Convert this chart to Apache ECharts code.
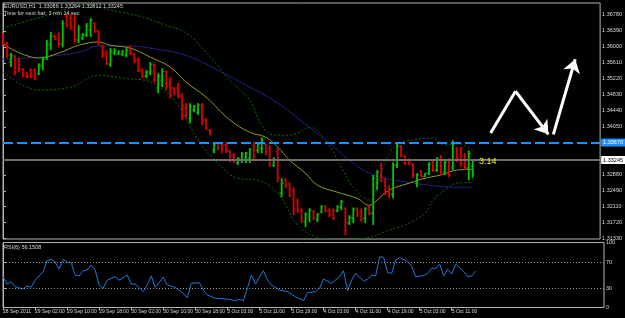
<!DOCTYPE html>
<html>
<head>
<meta charset="utf-8">
<script src="https://cdn.jsdelivr.net/npm/echarts@6/dist/echarts.min.js"></script>
<style>
    html, body {margin: 0; padding: 0; background: #000;}
    #chart {width: 625px; height: 318px;}
</style>
</head>
<body>
<div id="chart"></div>
<script>
// EURUSD H1, one bar per hour starting 28 Sep 2011 18:00
const opens = [1.3629, 1.3609, 1.3563, 1.3575, 1.3568, 1.3546, 1.3536, 1.3543, 1.3543, 1.3534,
    1.3553, 1.3573, 1.3604, 1.3626, 1.3629, 1.3607, 1.3675, 1.3670, 1.3665, 1.3617,
    1.3621, 1.3629, 1.3641, 1.3658, 1.3638, 1.3602, 1.3585, 1.3558, 1.3585, 1.3582,
    1.3582, 1.3580, 1.3597, 1.3582, 1.3568, 1.3543, 1.3529, 1.3539, 1.3556, 1.3500,
    1.3519, 1.3539, 1.3509, 1.3500, 1.3500, 1.3480, 1.3451, 1.3426, 1.3446, 1.3441,
    1.3456, 1.3422, 1.3397, 1.3348, 1.3366, 1.3363, 1.3361, 1.3346, 1.3336, 1.3317,
    1.3324, 1.3329, 1.3329, 1.3361, 1.3348, 1.3353, 1.3363, 1.3353, 1.3312, 1.3344,
    1.3244, 1.3275, 1.3266, 1.3251, 1.3224, 1.3202, 1.3173, 1.3183, 1.3200, 1.3180,
    1.3197, 1.3212, 1.3202, 1.3202, 1.3200, 1.3209, 1.3207, 1.3171, 1.3183, 1.3205,
    1.3197, 1.3183, 1.3209, 1.3195, 1.3270, 1.3310, 1.3275, 1.3256, 1.3241, 1.3312,
    1.3356, 1.3334, 1.3324, 1.3312, 1.3268, 1.3297, 1.3285, 1.3292, 1.3319, 1.3300,
    1.3331, 1.3295, 1.3324, 1.3305, 1.3353, 1.3348, 1.3336, 1.3305, 1.33086];
const highs = [1.3634, 1.3612, 1.3585, 1.3580, 1.3573, 1.3548, 1.3539, 1.3548, 1.3548, 1.3560,
    1.3575, 1.3617, 1.3636, 1.3629, 1.3636, 1.3665, 1.3682, 1.3680, 1.3677, 1.3653,
    1.3634, 1.3658, 1.3670, 1.3660, 1.3641, 1.3604, 1.3592, 1.3597, 1.3597, 1.3592,
    1.3592, 1.3597, 1.3604, 1.3585, 1.3575, 1.3548, 1.3543, 1.3563, 1.3560, 1.3536,
    1.3548, 1.3543, 1.3526, 1.3502, 1.3512, 1.3487, 1.3463, 1.3463, 1.3458, 1.3463,
    1.3463, 1.3426, 1.3400, 1.3366, 1.3368, 1.3368, 1.3368, 1.3348, 1.3341, 1.3331,
    1.3344, 1.3344, 1.3353, 1.3368, 1.3368, 1.3380, 1.3366, 1.3361, 1.3331, 1.3353,
    1.3280, 1.3280, 1.3270, 1.3258, 1.3231, 1.3207, 1.3197, 1.3207, 1.3202, 1.3195,
    1.3214, 1.3214, 1.3207, 1.3207, 1.3214, 1.3227, 1.3209, 1.3190, 1.3209, 1.3209,
    1.3207, 1.3209, 1.3214, 1.3288, 1.3300, 1.3317, 1.3280, 1.3263, 1.3319, 1.3368,
    1.3361, 1.3336, 1.3329, 1.3317, 1.3292, 1.3300, 1.3292, 1.3319, 1.3324, 1.3331,
    1.3336, 1.3324, 1.3329, 1.3373, 1.3356, 1.3356, 1.3341, 1.3348, 1.33264];
const lows = [1.3604, 1.3573, 1.3551, 1.3531, 1.3539, 1.3526, 1.3524, 1.3524, 1.3519, 1.3531,
    1.3543, 1.3568, 1.3592, 1.3617, 1.3599, 1.3599, 1.3648, 1.3641, 1.3609, 1.3609,
    1.3617, 1.3624, 1.3624, 1.3634, 1.3604, 1.3573, 1.3556, 1.3551, 1.3580, 1.3580,
    1.3578, 1.3575, 1.3580, 1.3560, 1.3539, 1.3524, 1.3524, 1.3531, 1.3512, 1.3487,
    1.3502, 1.3495, 1.3475, 1.3482, 1.3475, 1.3422, 1.3426, 1.3414, 1.3441, 1.3434,
    1.3409, 1.3397, 1.3385, 1.3341, 1.3348, 1.3341, 1.3341, 1.3319, 1.3317, 1.3312,
    1.3317, 1.3317, 1.3317, 1.3324, 1.3341, 1.3341, 1.3336, 1.3307, 1.3307, 1.3270,
    1.3234, 1.3256, 1.3234, 1.3190, 1.3195, 1.3171, 1.3161, 1.3173, 1.3178, 1.3173,
    1.3195, 1.3197, 1.3185, 1.3178, 1.3197, 1.3202, 1.3141, 1.3166, 1.3171, 1.3185,
    1.3173, 1.3171, 1.3190, 1.3166, 1.3251, 1.3270, 1.3239, 1.3231, 1.3231, 1.3305,
    1.3331, 1.3312, 1.3312, 1.3280, 1.3258, 1.3283, 1.3283, 1.3288, 1.3295, 1.3295,
    1.3288, 1.3288, 1.3283, 1.3300, 1.3319, 1.3307, 1.3300, 1.3275, 1.32812];
const closes = [1.3609, 1.3580, 1.3578, 1.3539, 1.3546, 1.3531, 1.3526, 1.3529, 1.3524, 1.3556,
    1.3570, 1.3607, 1.3626, 1.3619, 1.3607, 1.3656, 1.3653, 1.3648, 1.3617, 1.3646,
    1.3629, 1.3651, 1.3665, 1.3638, 1.3609, 1.3580, 1.3560, 1.3590, 1.3592, 1.3587,
    1.3590, 1.3592, 1.3585, 1.3565, 1.3543, 1.3529, 1.3539, 1.3558, 1.3519, 1.3529,
    1.3541, 1.3504, 1.3482, 1.3487, 1.3480, 1.3431, 1.3434, 1.3456, 1.3456, 1.3458,
    1.3422, 1.3402, 1.3387, 1.3361, 1.3353, 1.3348, 1.3346, 1.3324, 1.3319, 1.3329,
    1.3339, 1.3341, 1.3351, 1.3331, 1.3363, 1.3373, 1.3344, 1.3314, 1.3327, 1.3280,
    1.3268, 1.3261, 1.3239, 1.3202, 1.3200, 1.3178, 1.3192, 1.3202, 1.3183, 1.3192,
    1.3212, 1.3200, 1.3190, 1.3183, 1.3212, 1.3222, 1.3173, 1.3185, 1.3205, 1.3190,
    1.3180, 1.3205, 1.3195, 1.3280, 1.3295, 1.3280, 1.3246, 1.3239, 1.3312, 1.3358,
    1.3336, 1.3317, 1.3314, 1.3288, 1.3288, 1.3285, 1.3292, 1.3314, 1.3300, 1.3327,
    1.3295, 1.3319, 1.3288, 1.3361, 1.3329, 1.3317, 1.3307, 1.3341, 1.33245];

// indicator lines as [bar, value]
const maFast = [[0, 1.3607], [9, 1.3573], [14, 1.3585], [19, 1.3604], [24, 1.3612], [27, 1.3604],
    [32, 1.3597], [37, 1.3575], [42, 1.3551], [46, 1.3514], [51, 1.3478], [57, 1.3422],
    [62, 1.3392], [66, 1.3380], [69, 1.3356], [72, 1.3324], [76, 1.3292], [79, 1.3263],
    [84, 1.3246], [89, 1.3231], [92, 1.3214], [94, 1.3227], [97, 1.3251], [102, 1.3268],
    [106, 1.3280], [110, 1.3288], [114, 1.3300], [118, 1.3302]];
const maSlow = [[0, 1.3570], [9, 1.3575], [19, 1.3587], [24, 1.3602], [32, 1.3602], [40, 1.3592],
    [44, 1.3585], [49, 1.3568], [54, 1.3543], [62, 1.3502], [68, 1.3470], [77, 1.3404],
    [82, 1.3366], [87, 1.3324], [92, 1.3292], [97, 1.3278], [102, 1.3270], [107, 1.3263],
    [114, 1.3258], [118, 1.3258]];
const bbUpper = [[0, 1.3646], [5, 1.3660], [11, 1.3677], [17, 1.3695], [21, 1.3702], [27, 1.3690],
    [32, 1.3680], [36, 1.3670], [40, 1.3656], [46, 1.3634], [51, 1.3587], [57, 1.3519],
    [62, 1.3470], [65, 1.3409], [68, 1.3385], [72, 1.3385], [74, 1.3390], [77, 1.3404],
    [81, 1.3373], [85, 1.3307], [88, 1.3258], [92, 1.3227], [94, 1.3263], [97, 1.3341],
    [100, 1.3366], [104, 1.3375], [108, 1.3378], [111, 1.3361], [114, 1.3366], [118, 1.3348]];
const bbLower = [[0, 1.3539], [9, 1.3495], [17, 1.3502], [24, 1.3531], [30, 1.3524], [37, 1.3514],
    [43, 1.3470], [49, 1.3373], [54, 1.3317], [59, 1.3280], [64, 1.3275], [69, 1.3244],
    [74, 1.3166], [79, 1.3136], [84, 1.3129], [92, 1.3136], [97, 1.3154], [102, 1.3171],
    [106, 1.3195], [108, 1.3227], [111, 1.3251], [114, 1.3268], [118, 1.3270]];

const rsiPoints = [[0, 47.4], [1, 36], [2, 39.7], [3, 32], [5, 28.5], [6, 33], [7, 31], [8, 42],
    [10, 55], [11, 72], [12, 74], [13, 70], [14, 59], [15, 74], [16, 69.5], [17, 69.5],
    [18, 50], [19, 48.5], [20, 56.7], [21, 57.7], [22, 65.4], [23, 57.7], [24, 34.6],
    [25, 29.5], [26, 42], [28, 47.4], [29, 42], [31, 50], [32, 36], [33, 36], [35, 24.4],
    [36, 34.6], [37, 48.5], [38, 31], [40, 46.4], [41, 34.6], [43, 31], [45, 21.8], [46, 15],
    [47, 37.2], [49, 38.2], [50, 27], [51, 19.2], [53, 14.2], [56, 13], [58, 10.5], [59, 12.6],
    [60, 10.5], [61, 29.5], [62, 50], [63, 36], [65, 56.7], [66, 42], [67, 34.6], [69, 27],
    [71, 24.4], [73, 16.6], [75, 10.5], [76, 22.8], [78, 24.4], [79, 29.5], [80, 44],
    [82, 37.2], [84, 47.4], [85, 56.7], [86, 25.8], [87, 42], [88, 52.6], [90, 40.8],
    [91, 43.4], [92, 50], [93, 48.5], [94, 78.2], [95, 77], [96, 53.6], [97, 52.6], [98, 73],
    [99, 77], [101, 70.5], [102, 63.8], [103, 47.4], [105, 49], [106, 52.6], [107, 60.3],
    [108, 60.3], [109, 66.5], [110, 48.5], [111, 58.8], [112, 51.5], [113, 66.5], [115, 55],
    [116, 47.4], [117, 48.5], [118, 56.15]];
const rsiLevels = [30, 70];

// hand drawn arrows, [bar, price]
const zigzag = [[122.5, 1.3390], [128.75, 1.3492]];
const arrowHeads = [
    [[128.75, 1.3492], [137, 1.3387]],
    [[138.25, 1.3387], [143.75, 1.3570]]
];

const tickLabels = ['28 Sep 2011', '29 Sep 02:00', '29 Sep 10:00', '29 Sep 18:00', '30 Sep 02:00',
    '30 Sep 10:00', '30 Sep 18:00', '3 Oct 03:00', '3 Oct 11:00', '3 Oct 19:00', '4 Oct 03:00',
    '4 Oct 11:00', '4 Oct 19:00', '5 Oct 03:00', '5 Oct 11:00'];
const priceTicks = [1.3133, 1.3172, 1.3211, 1.3249, 1.3288, 1.3327, 1.3366, 1.3405, 1.3444,
    1.3483, 1.3522, 1.3561, 1.3600, 1.3639, 1.3678];
// 1.33270 and 1.33660 sit under the line boxes
const priceLabels = [1.3133, 1.3172, 1.3211, 1.3249, 1.3288, 1.3405, 1.3444,
    1.3483, 1.3522, 1.3561, 1.3600, 1.3639, 1.3678];
const rsiTicks = [0, 30, 70, 100];
const levelLine = 1.3367;
const bidPrice = 1.33245;

const upColor = '#00c800';
const downColor = '#dc0000';
const frameColor = '#b4b4b4';
const textColor = '#d8d8d8';
const font = "'Liberation Sans Narrow', 'Arial Narrow', 'Liberation Sans', sans-serif";

const barData = opens.map((o, i) => [i, o, highs[i], lows[i], closes[i]]);
const tickIdx = tickLabels.map((_, k) => k * 8);

function renderBar(params, api) {
    const x = api.value(0);
    const o = api.coord([x, api.value(1)]);
    const h = api.coord([x, api.value(2)]);
    const l = api.coord([x, api.value(3)]);
    const c = api.coord([x, api.value(4)]);
    const color = api.value(4) >= api.value(1) ? upColor : downColor;
    return {
        type: 'group', children: [
            {type: 'line', shape: {x1: h[0], y1: h[1], x2: l[0], y2: l[1]}, style: {stroke: color, lineWidth: 1.8}},
            {type: 'line', shape: {x1: o[0] - 2, y1: o[1], x2: o[0], y2: o[1]}, style: {stroke: color, lineWidth: 1}},
            {type: 'line', shape: {x1: c[0], y1: c[1], x2: c[0] + 2, y2: c[1]}, style: {stroke: color, lineWidth: 1}}
        ]
    };
}

function band(data, color) {
    return {
        type: 'line', xAxisIndex: 0, yAxisIndex: 0, data: data, symbol: 'none', smooth: 0.4,
        lineStyle: {color: color, width: 1, type: [2, 2]}, silent: true, z: 2
    };
}

function boxLabel(text, bg, fg) {
    return {
        position: 'end', distance: 1, formatter: text, color: fg, backgroundColor: bg,
        padding: [1, 2], fontSize: 5.5, fontFamily: font
    };
}

const chart = echarts.init(document.getElementById('chart'));
chart.setOption({
    backgroundColor: '#000',
    animation: false,
    grid: [
        {left: 3, right: 21, top: 3, height: 236, show: true, borderColor: frameColor, borderWidth: 1},
        {left: 3, right: 21, top: 242.5, height: 65, show: true, borderColor: frameColor, borderWidth: 1}
    ],
    xAxis: [
        {gridIndex: 0, type: 'value', min: 0, max: 150, show: false},
        {
            gridIndex: 1, type: 'value', min: 0, max: 150,
            axisLine: {show: false},
            axisTick: {show: true, customValues: tickIdx, length: 3, lineStyle: {color: frameColor}},
            axisLabel: {
                customValues: tickIdx, formatter: v => tickLabels[v / 8] || '',
                align: 'left', fontSize: 5, fontFamily: font, color: textColor, margin: 2
            },
            splitLine: {show: false}
        }
    ],
    yAxis: [
        {
            gridIndex: 0, type: 'value', position: 'right', min: 1.3132, max: 1.3707,
            axisLine: {show: true, lineStyle: {color: frameColor}},
            axisTick: {show: true, customValues: priceTicks, length: 3, lineStyle: {color: frameColor}},
            axisLabel: {
                customValues: priceLabels, formatter: v => v.toFixed(5),
                fontSize: 5.5, fontFamily: font, color: textColor, margin: 2
            },
            splitLine: {show: false}
        },
        {
            gridIndex: 1, type: 'value', position: 'right', min: 0, max: 100,
            axisLine: {show: true, lineStyle: {color: frameColor}},
            axisTick: {show: true, customValues: rsiTicks, length: 3, lineStyle: {color: frameColor}},
            axisLabel: {customValues: rsiTicks, fontSize: 5.5, fontFamily: font, color: textColor, margin: 2},
            splitLine: {show: false}
        }
    ],
    graphic: [
        {type: 'text', left: 4, top: 3, z: 100, style: {text: 'EURUSD,H1  1.33086 1.33264 1.32812 1.33245', fill: textColor, fontSize: 5.5, fontFamily: font}},
        {type: 'text', left: 4, top: 10, z: 100, style: {text: 'Time for next bar: 3 min 14 sec', fill: textColor, fontSize: 5.5, fontFamily: font}},
        {type: 'text', left: 4, top: 244, z: 100, style: {text: 'RSI(6) 56.1508', fill: textColor, fontSize: 5.5, fontFamily: font}},
        {type: 'text', left: 479, top: 157, z: 100, style: {text: '3:14', fill: '#f0f000', fontSize: 9, fontFamily: 'Liberation Sans'}}
    ],
    series: [
        band(bbUpper, '#0d6f0d'),
        band(bbLower, '#0d6f0d'),
        {
            type: 'line', xAxisIndex: 0, yAxisIndex: 0, data: maSlow, symbol: 'none', smooth: 0.4,
            lineStyle: {color: '#22228c', width: 1}, silent: true, z: 3,
            markLine: {
                silent: true, symbol: 'none', precision: 5,
                data: [
                    {
                        yAxis: levelLine,
                        lineStyle: {color: '#1e90ff', width: 2, type: [10, 4]},
                        label: boxLabel('1.33670', '#1e90ff', '#fff')
                    },
                    {
                        yAxis: bidPrice,
                        lineStyle: {color: '#6e6e6e', width: 2, type: 'solid'},
                        label: boxLabel('1.33245', '#fff', '#000')
                    }
                ]
            }
        },
        {
            type: 'line', xAxisIndex: 0, yAxisIndex: 0, data: maFast, symbol: 'none', smooth: 0.4,
            lineStyle: {color: '#98981a', width: 1}, silent: true, z: 3
        },
        {
            type: 'custom', xAxisIndex: 0, yAxisIndex: 0, data: barData, renderItem: renderBar,
            encode: {x: 0, y: [1, 2, 3, 4]}, silent: true, z: 4
        },
        {
            type: 'lines', coordinateSystem: 'cartesian2d', xAxisIndex: 0, yAxisIndex: 0,
            data: [{coords: zigzag}], symbol: 'none',
            lineStyle: {color: '#fff', width: 3, opacity: 1, curveness: 0}, silent: true, z: 5
        },
        {
            type: 'lines', coordinateSystem: 'cartesian2d', xAxisIndex: 0, yAxisIndex: 0,
            data: arrowHeads.map(c => ({coords: c})), symbol: ['none', 'arrow'], symbolSize: [11, 13],
            lineStyle: {color: '#fff', width: 3, opacity: 1, curveness: 0}, silent: true, z: 5
        },
        {
            type: 'line', xAxisIndex: 1, yAxisIndex: 1, data: rsiPoints, symbol: 'none',
            lineStyle: {color: '#1e78d8', width: 1}, silent: true,
            markLine: {
                silent: true, symbol: 'none', label: {show: false}, precision: 2,
                lineStyle: {color: '#9a9a9a', width: 1, type: [1, 2]},
                data: rsiLevels.map(v => ({yAxis: v}))
            }
        }
    ]
});
</script>
</body>
</html>
